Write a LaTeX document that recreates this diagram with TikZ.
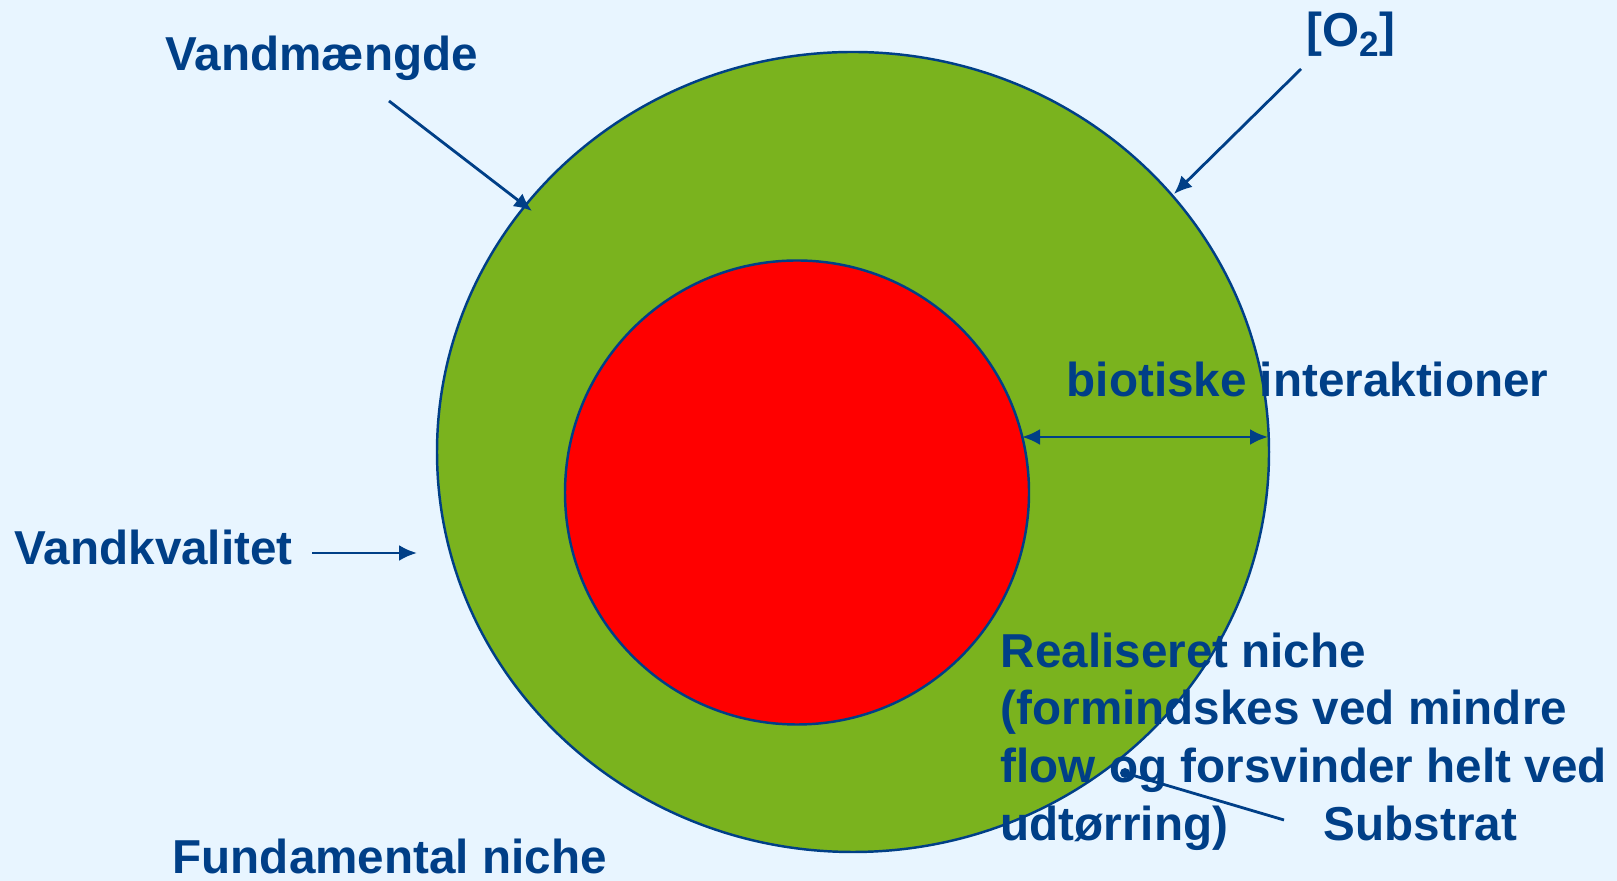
\documentclass[tikz,border=0pt]{standalone}
\usepackage{fontspec}
\setmainfont{Liberation Sans}
\usetikzlibrary{arrows.meta}
\definecolor{bgblue}{RGB}{232,245,255}
\definecolor{nicheblue}{RGB}{0,63,135}
\definecolor{nichegreen}{RGB}{122,179,30}
\definecolor{nichered}{RGB}{255,0,0}
\tikzset{
	nichelabel/.style={text=nicheblue, font=\bfseries\fontsize{13.55}{16}\selectfont, inner sep=0pt, anchor=base west},
	pointer/.style={draw=nicheblue, line width=0.8pt, -{Latex[length=1.8mm,width=1.6mm]}},
	rim/.style={draw=nicheblue, line width=0.7pt}
}
\begin{document}
\begin{tikzpicture}
	%background
	\fill[bgblue] (0,0) rectangle (16.17,8.81);
	\useasboundingbox (0,0) rectangle (16.17,8.81);
	
	%fundamental niche
	\filldraw[fill=nichegreen, rim] (8.53,4.29) ellipse (4.16 and 4.00);
	%realiseret niche
	\filldraw[fill=nichered, rim] (7.97,3.885) circle (2.32);
	
	%labels
	\node[nichelabel] (vandmaengde) at (1.65,8.10) {Vandmængde};
	\node[nichelabel] (oxygen) at (13.06,8.34) {[O\raisebox{-2.8pt}{\fontsize{10}{10}\selectfont 2}]};
	\node[nichelabel] (vandkvalitet) at (0.14,3.16) {Vandkvalitet};
	\node[nichelabel] (biotisk) at (10.66,4.84) {biotiske interaktioner};
	\node[nichelabel] (real1) at (10.00,2.13) {Realiseret niche};
	\node[nichelabel] (real2) at (10.00,1.56) {(formindskes ved mindre};
	\node[nichelabel] (real3) at (10.00,0.98) {flow og forsvinder helt ved};
	\node[nichelabel] (real4) at (10.00,0.40) {udtørring)};
	\node[nichelabel] (substrat) at (13.23,0.40) {Substrat};
	\node[nichelabel] (fundamental) at (1.72,0.07) {Fundamental niche};
	
	%arrow ends
	\coordinate (vm-start) at (3.89,7.80);
	\coordinate (vm-end) at (5.32,6.70);
	\coordinate (o2-start) at (13.01,8.12);
	\coordinate (o2-end) at (11.74,6.87);
	\coordinate (vk-start) at (3.12,3.28);
	\coordinate (vk-end) at (4.17,3.28);
	\coordinate (bio-in) at (10.22,4.44);
	\coordinate (bio-out) at (12.68,4.44);
	\coordinate (sub-dot) at (11.25,1.08);
	\coordinate (sub-end) at (12.84,0.61);
	
	%arrows
	\draw[pointer] (vm-start)--(vm-end);
	\draw[pointer] (o2-start)--(o2-end);
	\draw[pointer] (vk-start)--(vk-end);
	\draw[pointer, {Latex[length=1.8mm,width=1.6mm]}-{Latex[length=1.8mm,width=1.6mm]}] (bio-in)--(bio-out);
	\draw[nicheblue, line width=0.8pt] (sub-dot)--(sub-end);
	\fill[nicheblue] (sub-dot) circle (0.05);
	
\end{tikzpicture}
\end{document}
